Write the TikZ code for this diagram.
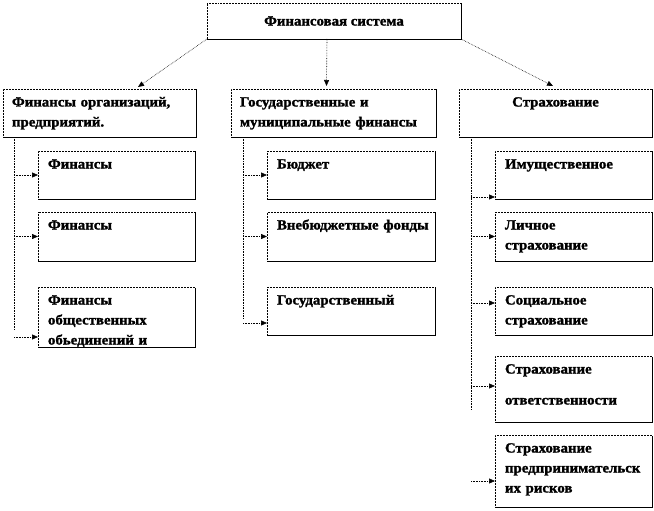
\documentclass[tikz,border=0pt]{standalone}
\usepackage{fontspec}
\setmainfont{Liberation Serif}[BoldFeatures={FakeStretch=1.06,FakeBold=1.5}]
\usetikzlibrary{arrows.meta,shadows}
\begin{document}
\begin{tikzpicture}[x=1pt,y=-1pt,
  base/.style={draw=black, densely dotted, line width=0.5pt, fill=white,
    drop shadow={shadow xshift=1pt,shadow yshift=-1pt,fill=black,opacity=1},
    anchor=north west, outer sep=0pt,
    font=\bfseries\fontsize{14}{20}\selectfont},
  tbox/.style={base, inner xsep=10pt, inner ysep=8pt, text height=9.5pt, align=left},
  cbox/.style={base, inner xsep=9pt, inner ysep=8pt, text height=9.5pt, align=center},
  conn/.style={densely dotted, line width=0.6pt},
  arr/.style={conn, -{Triangle[length=6pt,width=5pt]}}]
\useasboundingbox (0,0) rectangle (654,511);

% top
\node[base, align=center, minimum width=254pt, minimum height=36pt] (T) at (207,3) {Финансовая система};

% level 2
\node[tbox, inner xsep=9pt, text width=175pt, text depth=22.5pt] (L) at (3,89)
  {Финансы организаций,\\предприятий.};
\node[tbox, inner xsep=9pt, text width=187pt, text depth=22.5pt] (M) at (231,89)
  {Государственные и\\муниципальные финансы};
\node[cbox, text width=175pt, text depth=22.5pt] (R) at (459,89) {Страхование};

% left column
\node[tbox, text width=137pt, text depth=22.5pt] (L1) at (38,151) {Финансы};
\node[tbox, text width=137pt, text depth=23.5pt] (L2) at (38,212) {Финансы};
\node[tbox, text width=137pt, text depth=34.5pt] (L3) at (38,287)
  {Финансы\\общественных\\обьединений и};

% middle column
\node[tbox, text width=148pt, text depth=22.5pt] (M1) at (267,151) {Бюджет};
\node[tbox, text width=148pt, text depth=23.5pt] (M2) at (267,212) {\mbox{Внебюджетные фонды}};
\node[tbox, text width=148pt, text depth=22.5pt] (M3) at (267,287) {Государственный};

% right column
\node[tbox, text width=137pt, text depth=22.5pt] (R1) at (495,151) {Имущественное};
\node[tbox, text width=137pt, text depth=23.5pt] (R2) at (495,212) {Личное\\страхование};
\node[tbox, text width=137pt, text depth=22.5pt] (R3) at (495,287) {Социальное\\страхование};
\node[tbox, text width=137pt, text depth=40.5pt] (R4) at (495,356) {Страхование\\[11pt]ответственности};
\node[tbox, text width=137pt, text depth=46.5pt] (R5) at (495,435)
  {Страхование\\предпринимательск\\их рисков};

% arrow targets
\coordinate (l3t) at ([yshift=-20pt]L3.west);
\coordinate (m3t) at ([yshift=-12pt]M3.west);
\coordinate (r1t) at ([yshift=-22pt]R1.west);
\coordinate (r3t) at ([yshift=8pt]R3.west);
\coordinate (r4t) at ([yshift=3pt]R4.west);
\coordinate (r5t) at ([yshift=-10pt]R5.west);

% top arrows
\draw[arr] (T.south west) -- ([xshift=135pt,yshift=2pt]L.north west);
\draw[arr] ([xshift=-7pt]T.south) -- ([xshift=-7pt,yshift=3pt]M.north);
\draw[arr] (T.south east) -- ([xshift=94pt,yshift=3pt]R.north west);

% left tree
\coordinate (la) at ([xshift=11pt]L.south west);
\draw[conn] (la) -- ++(0,193);
\draw[arr] (la |- L1.west) -- (L1.west);
\draw[arr] (la |- L2.west) -- (L2.west);
\draw[arr] (la |- l3t) -- (l3t);

% middle tree
\coordinate (ma) at ([xshift=12pt]M.south west);
\draw[conn] (ma) -- ++(0,181);
\draw[arr] (ma |- M1.west) -- (M1.west);
\draw[arr] (ma |- M2.west) -- (M2.west);
\draw[arr] (ma |- m3t) -- (m3t);

% right tree
\coordinate (ra) at ([xshift=12pt]R.south west);
\draw[conn] (ra) -- ++(0,273);
\draw[arr] (ra |- r1t) -- (r1t);
\draw[arr] (ra |- R2.west) -- (R2.west);
\draw[arr] (ra |- r3t) -- (r3t);
\draw[arr] (ra |- r4t) -- (r4t);
\draw[arr] (ra |- r5t) -- (r5t);
\end{tikzpicture}
\end{document}
